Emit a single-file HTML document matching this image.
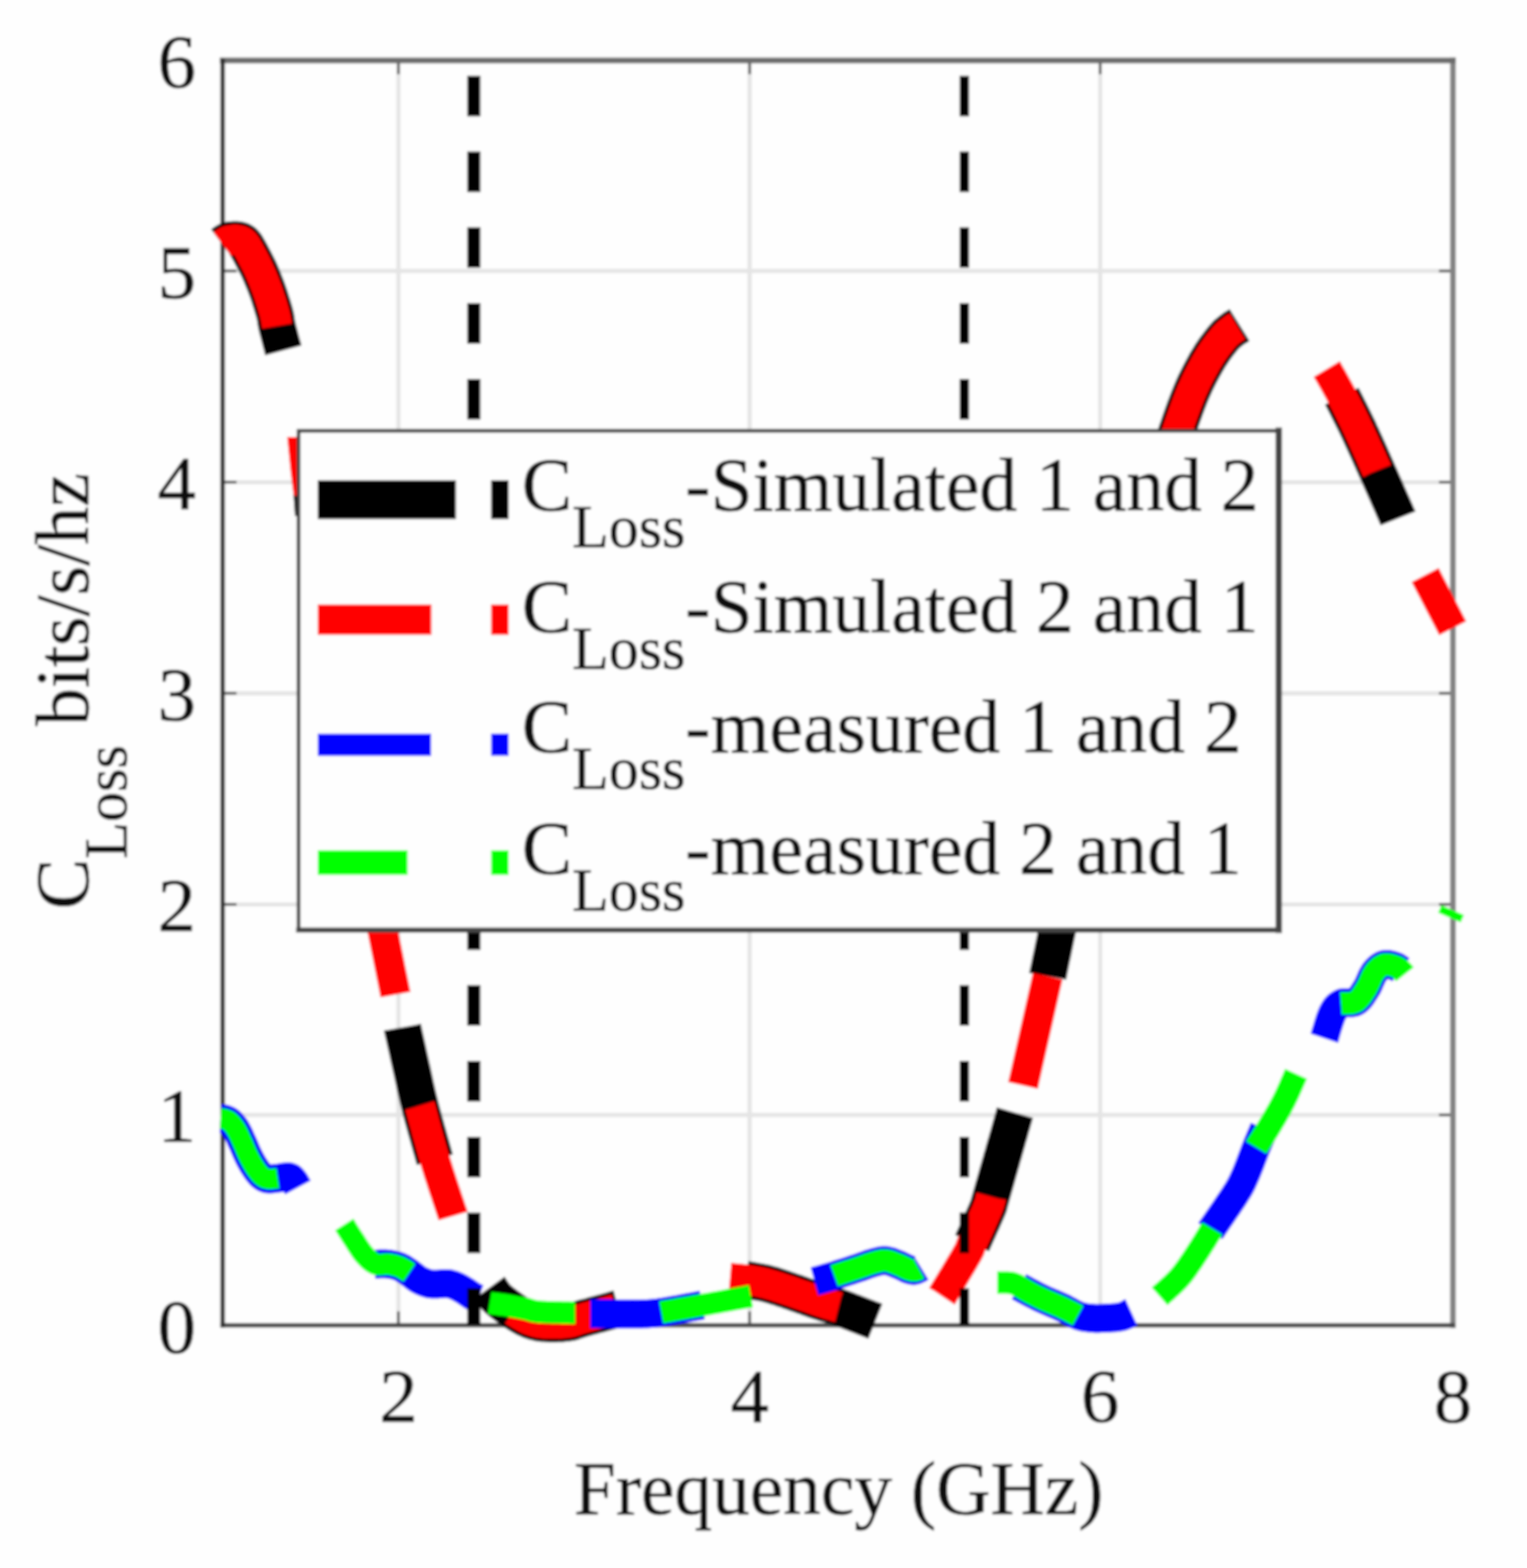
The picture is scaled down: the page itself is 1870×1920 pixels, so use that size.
<!DOCTYPE html>
<html lang="en">
<head>
<meta charset="utf-8">
<title>C Loss versus Frequency</title>
<style>
html,body{margin:0;padding:0;background:#fefefe;}
body{width:1870px;height:1920px;overflow:hidden;}
svg{display:block;}
text{font-family:"Liberation Serif","DejaVu Serif",serif;fill:#101010;stroke:#101010;stroke-width:0.7px;}
</style>
</head>
<body>
<svg width="1870" height="1920" viewBox="0 0 1870 1920">
<defs><filter id="soft" x="0" y="0" width="1870" height="1920" filterUnits="userSpaceOnUse"><feGaussianBlur stdDeviation="1.40"/></filter></defs>
<rect x="0" y="0" width="1870" height="1920" fill="#fefefe"/>
<g filter="url(#soft)">
<rect x="-20" y="-20" width="1910" height="1960" fill="#fefefe"/>
<g stroke="#e4e4e4" stroke-width="5" fill="none">
<line x1="487.9" y1="73.9" x2="487.9" y2="1622.8"/>
<line x1="918.0" y1="73.9" x2="918.0" y2="1622.8"/>
<line x1="1347.3" y1="73.9" x2="1347.3" y2="1622.8"/>
<line x1="272.6" y1="1365.2" x2="1779.3" y2="1365.2"/>
<line x1="272.6" y1="1107.4" x2="1779.3" y2="1107.4"/>
<line x1="272.6" y1="848.9" x2="1779.3" y2="848.9"/>
<line x1="272.6" y1="590.4" x2="1779.3" y2="590.4"/>
<line x1="272.6" y1="331.8" x2="1779.3" y2="331.8"/>
</g>
<g stroke="#4a4a4a" stroke-width="3" fill="none">
<line x1="487.9" y1="1622.8" x2="487.9" y2="1605.8"/>
<line x1="487.9" y1="73.9" x2="487.9" y2="90.9"/>
<line x1="918.0" y1="1622.8" x2="918.0" y2="1605.8"/>
<line x1="918.0" y1="73.9" x2="918.0" y2="90.9"/>
<line x1="1347.3" y1="1622.8" x2="1347.3" y2="1605.8"/>
<line x1="1347.3" y1="73.9" x2="1347.3" y2="90.9"/>
<line x1="272.6" y1="1365.2" x2="289.6" y2="1365.2"/>
<line x1="1779.3" y1="1365.2" x2="1762.3" y2="1365.2"/>
<line x1="272.6" y1="1107.4" x2="289.6" y2="1107.4"/>
<line x1="1779.3" y1="1107.4" x2="1762.3" y2="1107.4"/>
<line x1="272.6" y1="848.9" x2="289.6" y2="848.9"/>
<line x1="1779.3" y1="848.9" x2="1762.3" y2="848.9"/>
<line x1="272.6" y1="590.4" x2="289.6" y2="590.4"/>
<line x1="1779.3" y1="590.4" x2="1762.3" y2="590.4"/>
<line x1="272.6" y1="331.8" x2="289.6" y2="331.8"/>
<line x1="1779.3" y1="331.8" x2="1762.3" y2="331.8"/>
</g>
<g fill="none" stroke-linecap="square">
<path d="M1779.3,73.9 V1622.8" stroke="#828282" stroke-width="7"/>
<path d="M272.6,73.9 H1779.3" stroke="#6c6c6c" stroke-width="7"/>
<path d="M272.6,1622.8 H1779.3" stroke="#4a4a4a" stroke-width="5.5"/>
<path d="M272.6,73.9 V1622.8" stroke="#2e2e2e" stroke-width="5.5"/>
</g>
<g stroke-linecap="butt" stroke-linejoin="round">
<polygon points="359.2,604.0 372.0,604.0 372.0,632.0 361.2,632.0" fill="#000000"/>
<polygon points="351.7,535.0 372.0,535.0 372.0,607.0 359.6,607.0 355.8,576.7" fill="#ff0000"/>
<path d="M272.3,299.2 273.5,298.3 275.2,297.1 277.2,295.8 279.3,294.8 281.6,294.2 284.1,293.9 286.7,293.7 289.0,293.7 291.7,293.9 294.1,294.4 296.3,295.4 298.2,296.7 299.8,298.5 301.6,301.0 302.6,302.6 303.6,304.3 304.7,306.2 305.8,308.3 307.1,310.6 308.4,313.1 309.2,314.6 310.0,316.1 310.9,317.8 311.8,319.5 312.7,321.2 313.6,323.0 314.6,324.9 315.5,326.8 316.5,328.8 317.4,330.8 318.3,332.8 319.1,334.6 319.9,336.4 320.6,338.2 321.4,340.1 322.2,342.0 323.0,344.0 323.8,346.0 324.6,348.0 325.4,350.0 326.1,352.0 326.9,354.0 327.6,356.0 328.3,358.0 329.0,360.0 329.7,362.1 330.4,364.3 331.1,366.5 331.8,368.7 332.5,370.9 333.2,373.0 333.8,375.2 334.4,377.2 335.0,379.2 335.6,381.1 336.1,382.9 336.5,384.6 337.1,387.2 337.6,389.3 337.8,391.0 338.0,392.6 338.3,394.4 338.7,396.6 339.3,399.4 339.7,401.0 340.1,402.8 340.6,404.8 341.2,407.0 341.8,409.3 342.4,411.6 343.0,414.0 343.6,416.3 344.2,418.6 344.8,420.8 345.4,422.8 345.9,424.7 346.3,426.4 346.7,427.9 347.0,429.0" stroke="#000000" stroke-width="46" fill="none"/>
<path d="M492.8,1258.0 493.0,1259.1 493.3,1260.3 493.6,1261.7 494.0,1263.2 494.3,1264.9 494.7,1266.6 495.1,1268.5 495.6,1270.5 496.0,1272.5 496.5,1274.6 497.0,1276.8 497.4,1279.0 498.0,1281.3 498.5,1283.6 499.0,1285.9 499.5,1288.2 500.0,1290.6 500.5,1292.9 501.0,1295.2 501.5,1297.5 502.0,1299.7 502.5,1301.9 503.0,1304.0 503.4,1305.9 503.8,1307.8 504.3,1309.7 504.7,1311.6 505.1,1313.4 505.5,1315.3 505.9,1317.2 506.3,1319.1 506.7,1320.9 507.1,1322.8 507.5,1324.7 507.9,1326.6 508.3,1328.5 508.7,1330.5 509.2,1332.4 509.6,1334.4 510.1,1336.4 510.5,1338.5 511.0,1340.5 511.5,1342.6 512.0,1344.8 512.5,1346.9 513.1,1349.2 513.6,1351.4 514.2,1353.7 514.6,1355.4 515.1,1357.3 515.6,1359.2 516.1,1361.1 516.7,1363.2 517.2,1365.3 517.8,1367.4 518.4,1369.6 519.0,1371.8 519.6,1374.0 520.2,1376.3 520.9,1378.5 521.5,1380.8 522.1,1383.1 522.8,1385.4 523.4,1387.7 524.1,1390.0 524.7,1392.2 525.3,1394.4 525.9,1396.6 526.5,1398.7 527.1,1400.8 527.7,1402.9 528.2,1404.9 528.8,1406.8 529.3,1408.6 529.8,1410.4 530.3,1412.1 530.7,1413.6 531.1,1415.1 531.5,1416.5 531.9,1417.8 532.2,1419.0 532.5,1420.0" stroke="#000000" stroke-width="46" fill="none"/>
<path d="M599.3,1576.9 600.1,1578.0 601.0,1579.5 602.1,1581.3 603.5,1583.3 605.0,1585.4 606.7,1587.5 608.7,1589.6 610.0,1590.8 611.4,1592.1 613.0,1593.4 614.7,1594.7 616.4,1596.1 618.2,1597.4 620.0,1598.8 621.8,1600.1 623.6,1601.4 625.3,1602.6 626.9,1603.8 628.5,1604.9 630.5,1606.2 632.4,1607.5 634.3,1608.7 636.1,1609.9 637.9,1610.9 639.6,1611.9 641.4,1612.9 643.1,1613.8 644.8,1614.6 646.9,1615.6 649.0,1616.5 651.0,1617.2 653.0,1617.9 655.0,1618.5 657.1,1619.0 659.4,1619.5 661.3,1619.8 663.3,1620.1 665.3,1620.3 667.4,1620.4 669.5,1620.5 671.6,1620.6 673.8,1620.7 675.9,1620.7 678.0,1620.7 680.1,1620.7 682.3,1620.6 684.5,1620.6 686.7,1620.5 688.9,1620.3 691.0,1620.1 693.1,1619.9 695.1,1619.7 697.0,1619.4 699.2,1619.0 701.1,1618.5 702.8,1617.9 704.6,1617.3 706.4,1616.6 708.5,1615.9 711.0,1615.1 712.7,1614.6 714.4,1614.1 716.3,1613.6 718.3,1613.1 720.4,1612.5 722.5,1612.0 724.6,1611.4 726.8,1610.8 728.9,1610.2 731.0,1609.7 733.0,1609.1 735.0,1608.6 737.2,1608.0 739.4,1607.4 741.7,1606.7 744.1,1606.1 746.4,1605.5 748.6,1604.8 750.7,1604.3 752.6,1603.7 754.4,1603.2 755.8,1602.8 757.0,1602.5" stroke="#000000" stroke-width="46" fill="none"/>
<path d="M913.0,1567.0 914.2,1567.2 915.7,1567.5 917.4,1567.7 919.3,1568.0 921.3,1568.4 923.5,1568.8 925.9,1569.2 928.3,1569.6 930.7,1570.0 933.2,1570.5 935.7,1571.1 938.1,1571.6 940.4,1572.2 942.3,1572.7 944.2,1573.2 946.1,1573.8 948.1,1574.4 950.1,1575.0 952.1,1575.7 954.1,1576.3 956.2,1577.0 958.2,1577.7 960.3,1578.4 962.3,1579.1 964.4,1579.8 966.4,1580.5 968.5,1581.2 970.5,1581.9 972.5,1582.6 974.4,1583.2 976.3,1583.9 978.3,1584.6 980.3,1585.3 982.2,1586.0 984.2,1586.7 986.2,1587.4 988.2,1588.1 990.1,1588.8 992.1,1589.5 994.0,1590.2 995.9,1590.9 997.7,1591.5 999.5,1592.2 1001.3,1592.8 1003.0,1593.4 1004.6,1593.9 1006.9,1594.6 1009.0,1595.3 1010.8,1595.8 1012.5,1596.3 1014.2,1596.7 1015.9,1597.2 1017.7,1597.7 1019.6,1598.2 1021.8,1598.9 1024.2,1599.7 1027.1,1600.7 1028.6,1601.2 1030.2,1601.8 1031.9,1602.5 1033.8,1603.2 1035.8,1603.9 1037.8,1604.7 1039.9,1605.5 1042.1,1606.3 1044.3,1607.1 1046.5,1608.0 1048.7,1608.9 1051.0,1609.7 1053.2,1610.6 1055.3,1611.4 1057.5,1612.3 1059.5,1613.1 1061.5,1613.8 1063.4,1614.6 1065.2,1615.3 1066.9,1615.9 1068.4,1616.5 1069.8,1617.0 1071.0,1617.5 1072.0,1617.9" stroke="#000000" stroke-width="46" fill="none"/>
<path d="M1190.5,1522.0 1191.0,1521.0 1191.5,1519.8 1192.1,1518.4 1192.8,1516.8 1193.6,1515.2 1194.4,1513.4 1195.3,1511.4 1196.2,1509.4 1197.2,1507.3 1198.1,1505.2 1199.1,1503.0 1200.1,1500.8 1201.1,1498.6 1202.1,1496.4 1203.1,1494.3 1204.0,1492.1 1204.9,1490.1 1205.8,1488.1 1206.6,1486.2 1207.4,1484.5 1208.1,1482.8 1208.8,1481.3 1209.3,1480.0 1210.5,1477.2 1210.9,1476.3 1210.9,1476.3 1210.9,1476.2 1211.1,1475.0 1212.0,1471.6 1213.8,1465.1 1214.1,1463.9 1214.5,1462.7 1214.9,1461.3 1215.3,1459.9 1215.7,1458.4 1216.2,1456.8 1216.6,1455.1 1217.1,1453.4 1217.7,1451.6 1218.2,1449.7 1218.7,1447.8 1219.3,1445.8 1219.9,1443.7 1220.5,1441.6 1221.1,1439.5 1221.7,1437.3 1222.3,1435.1 1223.0,1432.8 1223.6,1430.6 1224.3,1428.2 1224.9,1425.9 1225.6,1423.6 1226.3,1421.2 1226.9,1418.8 1227.6,1416.4 1228.3,1414.1 1229.0,1411.7 1229.6,1409.3 1230.3,1406.9 1231.0,1404.6 1231.6,1402.2 1232.3,1399.9 1233.0,1397.6 1233.6,1395.3 1234.2,1393.1 1234.9,1390.9 1235.5,1388.7 1236.1,1386.6 1236.7,1384.5 1237.2,1382.5 1237.8,1380.5 1238.3,1378.6 1238.9,1376.8 1239.4,1375.0 1239.9,1373.3 1240.3,1371.6 1240.8,1370.0 1241.2,1368.6 1241.6,1367.2 1241.9,1365.9 1242.3,1364.6 1242.6,1363.5 1242.9,1362.5" stroke="#000000" stroke-width="46" fill="none"/>
<path d="M1283.0,1195.3 1283.2,1194.2 1283.5,1193.0 1283.8,1191.6 1284.1,1190.0 1284.4,1188.4 1284.8,1186.6 1285.2,1184.7 1285.6,1182.7 1286.0,1180.6 1286.5,1178.4 1286.9,1176.2 1287.4,1174.0 1287.9,1171.6 1288.4,1169.3 1288.9,1166.9 1289.4,1164.6 1289.8,1162.2 1290.3,1159.9 1290.8,1157.5 1291.3,1155.2 1291.7,1153.0 1292.2,1150.8 1292.6,1148.7 1293.0,1146.7 1293.4,1144.7 1293.8,1142.9 1294.2,1141.2 1294.5,1139.6 1295.1,1136.8 1295.6,1134.1 1296.1,1131.5 1296.7,1129.1 1297.1,1126.7 1297.6,1124.5 1298.0,1122.3 1298.4,1120.3 1298.8,1118.5 1299.1,1116.7 1299.5,1115.1 1299.8,1113.6 1300.0,1112.3 1300.3,1111.1 1300.5,1110.0" stroke="#000000" stroke-width="46" fill="none"/>
<path d="M1432.0,560.0 1432.3,558.9 1432.7,557.7 1433.1,556.3 1433.5,554.7 1434.0,553.0 1434.5,551.2 1435.1,549.3 1435.7,547.3 1436.3,545.2 1436.9,543.0 1437.6,540.8 1438.2,538.5 1439.0,536.2 1439.7,533.8 1440.4,531.5 1441.2,529.1 1441.9,526.8 1442.7,524.5 1443.3,522.8 1443.9,521.0 1444.5,519.1 1445.2,517.3 1445.8,515.4 1446.5,513.4 1447.2,511.4 1447.9,509.4 1448.6,507.4 1449.3,505.4 1450.1,503.4 1450.8,501.3 1451.5,499.3 1452.3,497.2 1453.1,495.2 1453.8,493.2 1454.6,491.1 1455.4,489.1 1456.1,487.2 1456.9,485.2 1457.7,483.3 1458.5,481.4 1459.2,479.6 1460.0,477.8 1460.9,475.8 1461.8,473.8 1462.7,471.8 1463.6,469.8 1464.5,467.8 1465.5,465.9 1466.4,464.0 1467.3,462.1 1468.3,460.2 1469.2,458.3 1470.2,456.5 1471.2,454.7 1472.1,452.9 1473.1,451.1 1474.0,449.4 1475.0,447.7 1475.9,446.0 1476.8,444.3 1477.8,442.7 1478.7,441.1 1479.6,439.6 1480.9,437.5 1482.2,435.4 1483.5,433.4 1484.8,431.4 1486.1,429.5 1487.4,427.6 1488.7,425.8 1490.0,424.1 1491.3,422.4 1492.5,420.8 1493.7,419.2 1494.9,417.8 1496.0,416.4 1497.1,415.0 1498.1,413.8 1500.1,411.5 1501.9,409.6 1503.5,408.1 1505.0,406.9 1506.4,405.8 1507.7,404.8 1509.0,403.8 1511.6,401.9 1513.8,400.6 1515.5,399.6 1517.2,398.5 1518.0,398.0" stroke="#000000" stroke-width="46" fill="none"/>
<path d="M1643.2,485.1 1643.7,486.1 1644.2,487.2 1644.9,488.4 1645.5,489.7 1646.3,491.1 1647.1,492.7 1647.9,494.3 1648.8,496.0 1649.7,497.8 1650.6,499.7 1651.6,501.6 1652.6,503.5 1653.6,505.6 1654.6,507.6 1655.7,509.7 1656.7,511.8 1657.8,513.9 1658.8,516.1 1659.9,518.2 1660.9,520.3 1661.9,522.4 1662.9,524.5 1663.7,526.1 1664.5,527.8 1665.2,529.5 1666.0,531.2 1666.8,532.9 1667.6,534.6 1668.4,536.4 1669.2,538.2 1670.1,540.0 1670.9,541.8 1671.7,543.6 1672.5,545.4 1673.4,547.3 1674.2,549.2 1675.1,551.0 1675.9,552.9 1676.8,554.8 1677.6,556.7 1678.5,558.6 1679.3,560.6 1680.2,562.5 1681.1,564.4 1681.9,566.4 1682.8,568.3 1683.7,570.3 1684.5,572.3 1685.4,574.2 1686.3,576.2 1687.1,578.0 1687.9,579.9 1688.8,581.8 1689.7,583.8 1690.6,585.9 1691.5,588.0 1692.5,590.1 1693.4,592.3 1694.4,594.4 1695.4,596.6 1696.3,598.8 1697.3,601.0 1698.3,603.2 1699.2,605.4 1700.2,607.6 1701.1,609.8 1702.1,611.9 1703.0,614.0 1703.9,616.0 1704.8,618.0 1705.6,619.9 1706.4,621.8 1707.2,623.6 1708.0,625.3 1708.7,627.0 1709.4,628.5 1710.0,630.0 1710.6,631.3 1711.2,632.6 1711.7,633.7 1712.1,634.7" stroke="#000000" stroke-width="46" fill="none"/>
<path d="M272.3,299.2 273.5,298.3 275.2,297.1 277.2,295.8 279.3,294.8 281.6,294.2 284.1,293.9 286.7,293.7 289.0,293.7 291.7,293.9 294.1,294.4 296.3,295.4 298.2,296.7 299.8,298.5 301.6,301.0 302.6,302.6 303.6,304.3 304.7,306.2 305.8,308.3 307.1,310.6 308.4,313.1 309.2,314.6 310.0,316.1 310.9,317.8 311.8,319.5 312.7,321.2 313.6,323.0 314.6,324.9 315.5,326.8 316.5,328.8 317.4,330.8 318.3,332.8 319.1,334.6 319.9,336.4 320.6,338.2 321.4,340.1 322.2,342.0 323.0,344.0 323.8,346.0 324.6,348.0 325.4,350.0 326.1,352.0 326.9,354.0 327.6,356.0 328.3,358.0 329.0,360.0 329.7,362.1 330.4,364.3 331.1,366.5 331.8,368.7 332.5,370.9 333.2,373.0 333.8,375.2 334.4,377.2 335.0,379.2 335.6,381.1 336.1,382.9 336.5,384.6 337.2,387.5 337.8,390.1 338.2,392.5 338.6,394.7 338.9,396.6 339.1,398.2 339.3,399.4" stroke="#ff0000" stroke-width="37.3" fill="none"/>
<path d="M462.8,1110.0 463.0,1111.0 463.2,1112.2 463.5,1113.4 463.7,1114.7 464.0,1116.1 464.3,1117.7 464.7,1119.4 465.0,1121.3 465.4,1123.3 465.9,1125.6 466.4,1128.0 466.9,1130.7 467.5,1133.7 468.1,1136.8 468.8,1140.3 469.1,1141.7 469.4,1143.3 469.7,1144.9 470.1,1146.7 470.4,1148.5 470.8,1150.4 471.2,1152.4 471.6,1154.5 472.0,1156.6 472.5,1158.7 472.9,1161.0 473.4,1163.2 473.8,1165.5 474.3,1167.9 474.8,1170.2 475.3,1172.6 475.7,1175.0 476.2,1177.4 476.7,1179.8 477.2,1182.2 477.6,1184.6 478.1,1186.9 478.6,1189.3 479.0,1191.6 479.5,1193.8 479.9,1196.0 480.4,1198.2 480.8,1200.3 481.2,1202.3 481.6,1204.3 482.0,1206.2 482.3,1208.0 482.7,1209.8 483.0,1211.4 483.3,1212.9 483.6,1214.3 483.9,1215.7 484.1,1216.8 484.3,1217.9" stroke="#ff0000" stroke-width="37.3" fill="none"/>
<path d="M514.2,1353.7 514.5,1354.7 514.8,1355.9 515.1,1357.1 515.5,1358.4 515.9,1359.9 516.3,1361.4 516.7,1363.0 517.2,1364.7 517.6,1366.4 518.1,1368.3 518.6,1370.1 519.1,1372.1 519.7,1374.1 520.2,1376.1 520.8,1378.2 521.4,1380.4 522.0,1382.5 522.5,1384.7 523.1,1387.0 523.8,1389.2 524.4,1391.5 525.0,1393.7 525.6,1396.0 526.3,1398.3 526.9,1400.5 527.5,1402.8 528.2,1405.1 528.8,1407.3 529.4,1409.5 530.0,1411.7 530.7,1413.8 531.3,1415.9 531.9,1418.0 532.5,1420.0 533.1,1421.9 533.7,1423.9 534.3,1425.9 534.9,1427.9 535.6,1430.0 536.3,1432.1 536.9,1434.3 537.6,1436.5 538.3,1438.7 539.0,1440.9 539.8,1443.1 540.5,1445.4 541.2,1447.6 541.9,1449.8 542.7,1452.1 543.4,1454.3 544.1,1456.5 544.8,1458.6 545.6,1460.8 546.3,1462.9 546.9,1465.0 547.6,1467.1 548.3,1469.1 548.9,1471.0 549.6,1472.9 550.2,1474.8 550.8,1476.5 551.3,1478.3 551.9,1479.9 552.4,1481.5 552.9,1482.9 553.4,1484.3 553.8,1485.7 554.2,1486.9 554.6,1488.0 554.9,1489.0" stroke="#ff0000" stroke-width="37.3" fill="none"/>
<path d="M628.5,1604.9 629.6,1605.6 631.1,1606.5 632.8,1607.6 634.7,1608.8 636.8,1610.1 638.9,1611.4 641.0,1612.6 643.0,1613.7 644.8,1614.6 646.9,1615.6 649.0,1616.5 651.0,1617.2 653.0,1617.9 655.0,1618.5 657.1,1619.0 659.4,1619.5 661.3,1619.8 663.3,1620.1 665.3,1620.3 667.4,1620.4 669.5,1620.5 671.6,1620.6 673.8,1620.7 675.9,1620.7 678.0,1620.7 680.1,1620.7 682.3,1620.6 684.5,1620.6 686.7,1620.5 688.9,1620.3 691.0,1620.1 693.1,1619.9 695.1,1619.7 697.0,1619.4 699.2,1619.0 701.1,1618.5 702.8,1617.9 704.6,1617.3 706.4,1616.6 708.5,1615.9 711.0,1615.1 712.7,1614.6 714.5,1614.1 716.4,1613.6 718.4,1613.1 720.5,1612.5 722.7,1611.9 724.8,1611.3 727.0,1610.8 729.1,1610.2 731.2,1609.6 733.1,1609.1 735.0,1608.6 737.4,1607.9 739.9,1607.2 742.4,1606.5 744.8,1605.9 747.1,1605.2 749.3,1604.6 751.2,1604.1 752.8,1603.6 754.0,1603.3" stroke="#ff0000" stroke-width="37.3" fill="none"/>
<path d="M893.9,1565.0 895.1,1565.1 896.6,1565.3 898.4,1565.4 900.4,1565.6 902.5,1565.8 904.8,1566.0 907.2,1566.2 909.5,1566.5 911.9,1566.8 914.2,1567.1 916.4,1567.4 918.3,1567.7 920.2,1568.0 922.1,1568.3 924.0,1568.6 925.9,1568.9 927.8,1569.3 929.7,1569.7 931.7,1570.1 933.8,1570.6 935.9,1571.0 938.1,1571.6 940.4,1572.2 942.2,1572.7 944.0,1573.2 945.9,1573.8 947.9,1574.4 949.8,1575.0 951.8,1575.7 953.9,1576.3 955.9,1577.0 958.0,1577.7 960.1,1578.4 962.2,1579.1 964.3,1579.8 966.4,1580.5 968.4,1581.2 970.5,1581.9 972.5,1582.6 974.4,1583.2 976.3,1583.9 978.3,1584.6 980.3,1585.3 982.2,1586.0 984.2,1586.7 986.2,1587.4 988.2,1588.1 990.1,1588.8 992.1,1589.5 994.0,1590.2 995.9,1590.9 997.7,1591.5 999.5,1592.2 1001.3,1592.8 1003.0,1593.4 1004.6,1593.9 1007.1,1594.7 1009.6,1595.5 1012.0,1596.3 1014.4,1597.0 1016.7,1597.7 1018.9,1598.3 1021.0,1598.9 1022.8,1599.5 1024.5,1599.9 1025.9,1600.4 1027.1,1600.7" stroke="#ff0000" stroke-width="37.3" fill="none"/>
<path d="M1153.5,1587.2 1154.1,1586.3 1154.7,1585.2 1155.5,1583.9 1156.3,1582.6 1157.2,1581.1 1158.2,1579.5 1159.2,1577.8 1160.3,1576.0 1161.4,1574.2 1162.6,1572.2 1163.8,1570.3 1165.0,1568.2 1166.2,1566.2 1167.5,1564.1 1168.8,1562.0 1170.0,1559.9 1171.3,1557.8 1172.5,1555.7 1173.8,1553.7 1175.0,1551.6 1176.1,1549.7 1177.3,1547.8 1178.4,1545.9 1179.4,1544.2 1180.4,1542.5 1181.3,1541.0 1182.2,1539.5 1182.9,1538.2 1183.6,1537.0 1185.5,1533.6 1186.7,1531.4 1187.4,1530.0 1187.8,1529.0 1188.1,1528.1 1188.5,1526.8 1189.2,1524.9 1190.5,1522.0 1191.1,1520.7 1191.8,1519.2 1192.5,1517.7 1193.2,1516.0 1194.1,1514.2 1194.9,1512.3 1195.8,1510.3 1196.7,1508.3 1197.7,1506.3 1198.6,1504.2 1199.6,1502.1 1200.5,1499.9 1201.5,1497.8 1202.4,1495.7 1203.3,1493.7 1204.2,1491.7 1205.1,1489.7 1205.9,1487.8 1206.7,1486.0 1207.5,1484.3 1208.1,1482.8 1208.8,1481.3 1209.3,1480.0 1210.7,1476.3 1211.8,1473.3 1212.5,1470.9 1212.9,1469.0 1213.3,1467.5 1213.5,1466.2 1213.8,1465.1" stroke="#ff0000" stroke-width="37.3" fill="none"/>
<path d="M1252.8,1329.2 1283.0,1195.3" stroke="#ff0000" stroke-width="37.3" fill="none"/>
<path d="M1432.0,560.0 1432.3,558.9 1432.7,557.7 1433.1,556.3 1433.5,554.7 1434.0,553.0 1434.5,551.2 1435.1,549.3 1435.7,547.3 1436.3,545.2 1436.9,543.0 1437.6,540.8 1438.2,538.5 1439.0,536.2 1439.7,533.8 1440.4,531.5 1441.2,529.1 1441.9,526.8 1442.7,524.5 1443.3,522.8 1443.9,521.0 1444.5,519.1 1445.2,517.3 1445.8,515.4 1446.5,513.4 1447.2,511.4 1447.9,509.4 1448.6,507.4 1449.3,505.4 1450.1,503.4 1450.8,501.3 1451.5,499.3 1452.3,497.2 1453.1,495.2 1453.8,493.2 1454.6,491.1 1455.4,489.1 1456.1,487.2 1456.9,485.2 1457.7,483.3 1458.5,481.4 1459.2,479.6 1460.0,477.8 1460.9,475.8 1461.8,473.8 1462.7,471.8 1463.6,469.8 1464.5,467.8 1465.5,465.9 1466.4,464.0 1467.3,462.1 1468.3,460.2 1469.2,458.3 1470.2,456.5 1471.2,454.7 1472.1,452.9 1473.1,451.1 1474.0,449.4 1475.0,447.7 1475.9,446.0 1476.8,444.3 1477.8,442.7 1478.7,441.1 1479.6,439.6 1480.9,437.5 1482.2,435.4 1483.5,433.4 1484.8,431.4 1486.1,429.5 1487.4,427.6 1488.7,425.8 1490.0,424.1 1491.3,422.4 1492.5,420.8 1493.7,419.2 1494.9,417.8 1496.0,416.4 1497.1,415.0 1498.1,413.8 1500.1,411.5 1501.9,409.6 1503.5,408.1 1505.0,406.9 1506.4,405.8 1507.7,404.8 1509.0,403.8 1511.7,401.8 1514.0,400.5 1515.5,399.6" stroke="#ff0000" stroke-width="37.3" fill="none"/>
<path d="M1624.8,451.9 1625.4,452.9 1626.0,454.0 1626.8,455.4 1627.6,456.8 1628.5,458.4 1629.5,460.1 1630.5,461.8 1631.5,463.7 1632.7,465.7 1633.8,467.7 1635.0,469.8 1636.1,471.9 1637.3,474.0 1638.5,476.2 1639.7,478.4 1640.9,480.6 1642.0,482.7 1642.8,484.3 1643.7,485.9 1644.5,487.5 1645.4,489.2 1646.3,490.9 1647.1,492.6 1648.0,494.3 1648.9,496.0 1649.8,497.8 1650.7,499.6 1651.6,501.4 1652.5,503.2 1653.4,505.1 1654.4,506.9 1655.3,508.8 1656.2,510.7 1657.2,512.6 1658.1,514.6 1659.1,516.5 1660.0,518.5 1661.0,520.5 1661.9,522.5 1662.9,524.5 1663.7,526.2 1664.5,528.0 1665.4,529.9 1666.3,531.8 1667.2,533.8 1668.2,535.9 1669.1,537.9 1670.1,540.1 1671.1,542.2 1672.0,544.4 1673.0,546.5 1674.0,548.7 1674.9,550.8 1675.9,553.0 1676.9,555.1 1677.8,557.1 1678.7,559.2 1679.6,561.1 1680.4,563.1 1681.2,564.9 1682.0,566.7 1682.8,568.4 1683.5,570.0 1684.2,571.4 1684.8,572.8 1685.3,574.1 1685.9,575.2 1686.3,576.2" stroke="#ff0000" stroke-width="37.3" fill="none"/>
<path d="M1745.3,704.1 1779.0,769.3" stroke="#ff0000" stroke-width="37.3" fill="none"/>
<path d="M270.0,1369.6 271.6,1369.7 273.8,1370.0 276.0,1370.5 277.9,1371.3 279.9,1372.3 282.0,1374.0 283.2,1375.2 284.4,1376.5 285.6,1378.0 286.9,1379.7 288.2,1381.5 289.4,1383.5 290.3,1385.1 291.3,1386.9 292.2,1388.8 293.2,1390.8 294.1,1392.8 295.0,1394.9 295.9,1396.9 296.8,1398.8 297.7,1400.7 298.5,1402.6 299.3,1404.5 300.1,1406.4 300.9,1408.3 301.7,1410.2 302.5,1412.1 303.4,1413.9 304.3,1415.7 305.2,1417.6 306.2,1419.4 307.1,1421.2 308.1,1423.0 309.1,1424.7 310.1,1426.4 311.1,1428.0 312.3,1429.8 313.5,1431.7 314.8,1433.5 316.1,1435.2 317.3,1436.7 318.6,1438.2 319.8,1439.4 321.8,1441.1 323.7,1442.3 325.7,1443.1 328.0,1443.6 329.8,1443.7 331.7,1443.7 333.7,1443.5 335.9,1443.2 338.0,1442.9 340.2,1442.6 342.5,1442.3 345.0,1441.9 347.5,1441.4 350.0,1441.1 352.2,1440.9 354.1,1441.0 356.7,1442.1 358.4,1443.9 360.0,1446.0 361.4,1448.0 362.8,1450.4 364.0,1452.6 364.8,1454.1" stroke="#0000ff" stroke-width="35.5" fill="none"/>
<path d="M459.6,1547.8 461.0,1547.8 463.0,1547.7 465.4,1547.6 467.9,1547.5 470.6,1547.5 473.2,1547.6 475.5,1547.8 477.7,1548.1 479.8,1548.5 482.0,1549.0 484.1,1549.5 486.1,1550.1 488.1,1550.8 490.0,1551.5 492.1,1552.5 494.0,1553.5 495.8,1554.7 497.6,1555.9 499.4,1557.2 501.3,1558.5 502.9,1559.7 504.5,1560.9 506.2,1562.2 507.8,1563.6 509.5,1564.8 511.2,1566.0 513.1,1567.1 515.0,1568.1 517.0,1569.0 519.0,1569.9 521.1,1570.7 523.3,1571.4 525.6,1572.0 528.1,1572.4 530.0,1572.6 532.1,1572.6 534.3,1572.5 536.5,1572.4 538.8,1572.2 541.1,1572.0 543.4,1571.8 545.5,1571.8 547.6,1571.8 549.5,1572.0 552.0,1572.5 554.2,1573.1 556.3,1573.9 558.3,1574.7 560.3,1575.7 562.3,1576.7 564.4,1577.8 566.3,1578.9 568.3,1580.1 570.4,1581.4 572.4,1582.8 574.4,1584.1 576.2,1585.4 577.9,1586.5 579.4,1587.4 582.5,1589.0 584.6,1589.8 586.0,1590.3" stroke="#0000ff" stroke-width="35.5" fill="none"/>
<path d="M722.9,1608.5 724.0,1608.5 725.3,1608.5 726.7,1608.5 728.3,1608.6 730.0,1608.6 731.9,1608.6 733.8,1608.7 735.9,1608.7 738.0,1608.7 740.2,1608.7 742.5,1608.8 744.8,1608.8 747.2,1608.8 749.6,1608.9 752.0,1608.9 754.4,1608.9 756.9,1609.0 759.3,1609.0 761.7,1609.0 764.0,1609.0 766.3,1609.0 768.5,1609.1 770.7,1609.1 772.8,1609.1 774.8,1609.1 776.6,1609.0 778.4,1609.0 780.0,1609.0 782.9,1608.9 785.5,1608.9 787.8,1608.8 789.9,1608.8 791.8,1608.7 793.6,1608.6 795.3,1608.5 797.0,1608.4 798.7,1608.3 800.5,1608.1 802.5,1607.8 804.6,1607.6 807.0,1607.3 809.7,1606.9 811.4,1606.7 813.2,1606.4 815.1,1606.1 817.1,1605.8 819.2,1605.4 821.4,1605.0 823.7,1604.7 826.0,1604.2 828.4,1603.8 830.8,1603.4 833.1,1603.0 835.5,1602.5 837.9,1602.1 840.2,1601.7 842.5,1601.2 844.7,1600.8 846.9,1600.4 849.0,1600.0 851.0,1599.7 852.8,1599.3 854.6,1599.0 856.2,1598.7 857.6,1598.4 858.9,1598.2 860.0,1598.0" stroke="#0000ff" stroke-width="35.5" fill="none"/>
<path d="M997.4,1569.0 998.5,1568.7 999.9,1568.3 1001.6,1567.8 1003.4,1567.3 1005.4,1566.7 1007.5,1566.1 1009.8,1565.5 1012.1,1564.8 1014.5,1564.1 1016.8,1563.4 1019.2,1562.7 1021.5,1562.0 1023.3,1561.5 1025.1,1560.9 1027.0,1560.3 1029.0,1559.6 1031.1,1559.0 1033.1,1558.3 1035.2,1557.7 1037.3,1557.0 1039.4,1556.3 1041.4,1555.7 1043.4,1555.0 1045.3,1554.4 1047.2,1553.8 1048.9,1553.2 1050.6,1552.7 1052.1,1552.2 1054.8,1551.3 1057.1,1550.4 1059.2,1549.7 1061.0,1549.0 1062.7,1548.3 1064.4,1547.7 1066.2,1547.2 1068.1,1546.6 1070.1,1546.0 1072.1,1545.5 1074.1,1544.9 1076.1,1544.4 1078.2,1544.0 1080.2,1543.6 1082.2,1543.5 1084.2,1543.5 1086.2,1543.7 1088.3,1544.2 1090.3,1544.7 1092.4,1545.4 1094.4,1546.2 1096.4,1547.0 1098.3,1547.8 1100.2,1548.5 1102.3,1549.3 1104.3,1550.3 1106.2,1551.3 1108.1,1552.2 1109.9,1553.1 1111.6,1553.9 1113.1,1554.5 1116.0,1555.4 1118.2,1555.7 1120.5,1555.5 1122.5,1554.8 1124.6,1553.8 1126.5,1552.7 1127.8,1551.9" stroke="#0000ff" stroke-width="35.5" fill="none"/>
<path d="M1248.0,1575.5 1249.2,1576.2 1250.9,1577.1 1252.9,1578.2 1255.3,1579.6 1258.0,1581.0 1259.5,1581.8 1261.1,1582.6 1262.8,1583.5 1264.6,1584.5 1266.5,1585.4 1268.4,1586.4 1270.4,1587.5 1272.5,1588.5 1274.6,1589.5 1276.7,1590.5 1278.4,1591.3 1280.2,1592.1 1282.0,1592.9 1283.9,1593.7 1285.8,1594.5 1287.7,1595.3 1289.7,1596.1 1291.6,1597.0 1293.6,1597.8 1295.4,1598.6 1297.3,1599.4 1299.1,1600.2 1300.8,1601.0 1303.0,1602.0 1305.1,1603.1 1307.1,1604.2 1309.2,1605.3 1311.1,1606.4 1313.1,1607.5 1314.9,1608.5 1316.8,1609.4 1318.5,1610.2 1320.2,1610.9 1322.5,1611.7 1324.5,1612.3 1326.5,1612.8 1328.4,1613.1 1330.2,1613.4 1332.1,1613.6 1334.0,1613.8 1335.9,1614.0 1337.7,1614.2 1339.5,1614.3 1341.4,1614.4 1343.4,1614.4 1345.6,1614.4 1348.2,1614.3 1349.9,1614.2 1351.8,1614.2 1353.8,1614.1 1355.9,1614.0 1358.1,1613.9 1360.3,1613.8 1362.5,1613.6 1364.7,1613.5 1366.8,1613.3 1368.8,1613.0 1370.6,1612.8 1372.3,1612.5 1374.9,1611.9 1377.3,1611.0 1379.4,1610.1 1381.3,1609.1 1383.0,1608.2 1384.4,1607.4 1385.5,1606.9" stroke="#0000ff" stroke-width="35.5" fill="none"/>
<path d="M1482.2,1507.4 1482.8,1506.5 1483.5,1505.4 1484.4,1504.3 1485.3,1503.0 1486.2,1501.5 1487.3,1500.0 1488.4,1498.4 1489.6,1496.7 1490.8,1494.9 1492.1,1493.1 1493.4,1491.2 1494.7,1489.3 1496.0,1487.3 1497.4,1485.4 1498.7,1483.4 1500.1,1481.4 1501.4,1479.4 1502.8,1477.5 1504.1,1475.5 1505.3,1473.7 1506.6,1471.8 1507.8,1470.1 1508.9,1468.4 1510.0,1466.8 1511.0,1465.2 1511.9,1463.8 1512.7,1462.5 1514.3,1459.9 1515.8,1457.6 1517.0,1455.6 1518.0,1453.8 1518.9,1452.2 1519.8,1450.6 1520.5,1449.1 1521.3,1447.6 1522.0,1446.0 1522.8,1444.2 1523.7,1442.2 1524.7,1440.0 1525.4,1438.4 1526.2,1436.6 1526.9,1434.8 1527.7,1432.9 1528.5,1430.9 1529.3,1428.8 1530.1,1426.8 1530.9,1424.7 1531.7,1422.6 1532.5,1420.5 1533.3,1418.4 1534.1,1416.3 1534.8,1414.3 1535.6,1412.3 1536.3,1410.4 1537.0,1408.5 1537.7,1406.8 1538.4,1405.1 1539.4,1402.7 1540.3,1400.3 1541.3,1398.0 1542.3,1395.7 1543.2,1393.5 1544.1,1391.4 1544.9,1389.4 1545.7,1387.6 1546.4,1385.9 1547.0,1384.4 1547.5,1383.1 1548.0,1382.0" stroke="#0000ff" stroke-width="35.5" fill="none"/>
<path d="M1621.8,1271.4 1622.2,1270.2 1622.6,1268.8 1623.1,1267.1 1623.6,1265.1 1624.2,1263.0 1624.9,1260.8 1625.6,1258.4 1626.3,1256.1 1627.0,1253.7 1627.8,1251.3 1628.5,1249.0 1629.3,1246.9 1630.0,1244.9 1630.7,1243.1 1631.4,1241.5 1632.6,1239.0 1633.8,1236.8 1635.0,1235.0 1636.2,1233.4 1637.5,1232.0 1638.9,1230.8 1640.4,1229.7 1642.1,1228.7 1643.8,1228.1 1645.7,1227.8 1647.8,1227.7 1650.0,1227.8 1652.2,1227.8 1654.3,1227.9 1656.5,1227.7 1658.5,1227.3 1660.3,1226.5 1661.8,1225.5 1663.3,1224.2 1664.7,1222.8 1666.0,1221.3 1667.3,1219.6 1668.5,1217.8 1669.7,1216.0 1670.9,1214.1 1672.1,1212.3 1673.2,1210.5 1674.3,1208.7 1675.3,1206.7 1676.3,1204.7 1677.2,1202.6 1678.1,1200.5 1679.0,1198.4 1679.9,1196.4 1680.8,1194.5 1681.8,1192.8 1682.8,1191.2 1684.3,1189.2 1685.9,1187.3 1687.6,1185.7 1689.2,1184.2 1691.0,1183.0 1692.7,1182.0 1694.5,1181.3 1696.7,1180.9 1699.1,1180.9 1701.5,1181.2 1703.9,1181.8 1706.1,1182.4 1708.0,1183.0 1710.5,1184.0 1712.6,1185.4 1714.3,1186.6 1715.5,1187.5" stroke="#0000ff" stroke-width="35.5" fill="none"/>
<path d="M270.0,1369.6 271.6,1369.7 273.8,1370.0 276.0,1370.5 277.9,1371.3 279.9,1372.3 282.0,1374.0 283.2,1375.2 284.4,1376.5 285.6,1378.0 286.9,1379.7 288.2,1381.5 289.4,1383.5 290.3,1385.1 291.3,1386.9 292.2,1388.8 293.2,1390.8 294.1,1392.8 295.0,1394.9 295.9,1396.9 296.8,1398.8 297.7,1400.7 298.5,1402.6 299.3,1404.5 300.1,1406.4 300.9,1408.3 301.7,1410.2 302.5,1412.1 303.4,1413.9 304.3,1415.7 305.2,1417.6 306.2,1419.4 307.1,1421.2 308.1,1423.0 309.1,1424.7 310.1,1426.4 311.1,1428.0 312.3,1429.8 313.5,1431.7 314.8,1433.5 316.1,1435.2 317.3,1436.7 318.6,1438.2 319.8,1439.4 321.8,1441.1 323.7,1442.3 325.7,1443.1 328.0,1443.6 329.9,1443.7 332.2,1443.6 334.6,1443.4 336.9,1443.1 338.8,1442.8 340.2,1442.6" stroke="#00ff00" stroke-width="25" fill="none"/>
<path d="M421.6,1499.3 422.3,1500.4 423.1,1501.7 424.1,1503.3 425.2,1505.1 426.4,1507.0 427.7,1509.1 429.0,1511.1 430.3,1513.2 431.6,1515.2 432.9,1517.1 434.0,1518.9 435.2,1520.7 436.3,1522.6 437.5,1524.4 438.6,1526.2 439.8,1527.9 440.9,1529.7 442.1,1531.3 443.2,1533.0 444.4,1534.5 445.7,1536.0 447.1,1537.6 448.6,1539.2 450.1,1540.8 451.6,1542.3 453.2,1543.7 454.7,1544.9 456.3,1546.1 458.0,1547.0 459.6,1547.8 461.8,1548.4 464.0,1548.6 466.3,1548.4 468.7,1548.2 471.0,1547.9 473.3,1547.7 475.5,1547.8 477.7,1548.1 479.8,1548.5 482.0,1549.0 484.1,1549.5 486.1,1550.1 488.1,1550.8 490.0,1551.5 492.2,1552.6 494.4,1553.8 496.6,1555.2 498.5,1556.6 500.1,1557.7 501.3,1558.5" stroke="#00ff00" stroke-width="26.5" fill="none"/>
<path d="M599.5,1595.6 600.7,1595.8 602.3,1595.9 604.1,1596.2 606.1,1596.4 608.3,1596.7 610.7,1597.0 613.1,1597.3 615.5,1597.6 617.9,1597.9 620.2,1598.3 622.1,1598.6 624.1,1598.9 626.2,1599.3 628.3,1599.7 630.4,1600.1 632.5,1600.5 634.7,1600.8 636.7,1601.2 638.8,1601.6 640.7,1602.0 642.6,1602.4 644.3,1602.7 646.5,1603.2 648.2,1603.7 649.7,1604.2 651.1,1604.6 652.6,1605.1 654.5,1605.5 657.0,1605.9 660.3,1606.2 661.8,1606.3 663.4,1606.4 665.2,1606.5 667.2,1606.6 669.3,1606.7 671.5,1606.7 673.8,1606.8 676.1,1606.9 678.5,1607.0 680.9,1607.0 683.3,1607.1 685.8,1607.1 688.1,1607.2 690.4,1607.2 692.7,1607.3 694.8,1607.3 696.8,1607.3 698.7,1607.4 700.4,1607.4 701.9,1607.4 703.3,1607.5 704.4,1607.5" stroke="#00ff00" stroke-width="27.5" fill="none"/>
<path d="M809.7,1606.9 810.8,1606.7 812.0,1606.5 813.3,1606.3 814.8,1606.0 816.4,1605.7 818.1,1605.4 819.9,1605.1 821.8,1604.8 823.7,1604.4 825.8,1604.1 827.9,1603.7 830.0,1603.3 832.2,1602.9 834.5,1602.5 836.8,1602.1 839.1,1601.7 841.5,1601.3 843.8,1600.9 846.2,1600.5 848.5,1600.0 850.9,1599.6 853.2,1599.2 855.5,1598.8 857.8,1598.4 860.0,1598.0 861.9,1597.7 863.8,1597.3 865.9,1596.9 867.9,1596.6 870.1,1596.2 872.3,1595.8 874.5,1595.4 876.8,1595.0 879.1,1594.6 881.4,1594.1 883.7,1593.7 886.0,1593.3 888.4,1592.9 890.7,1592.5 892.9,1592.0 895.2,1591.6 897.4,1591.2 899.6,1590.8 901.7,1590.4 903.8,1590.1 905.8,1589.7 907.7,1589.4 909.6,1589.0 911.3,1588.7 913.0,1588.4 914.6,1588.1 916.0,1587.9 917.3,1587.6 918.5,1587.4 919.6,1587.2" stroke="#00ff00" stroke-width="27.5" fill="none"/>
<path d="M1021.5,1562.0 1022.6,1561.6 1024.0,1561.2 1025.6,1560.7 1027.3,1560.1 1029.3,1559.5 1031.4,1558.9 1033.6,1558.2 1035.8,1557.5 1038.1,1556.7 1040.3,1556.0 1042.6,1555.3 1044.8,1554.6 1046.8,1553.9 1048.8,1553.3 1050.5,1552.7 1052.1,1552.2 1054.8,1551.3 1057.1,1550.4 1059.2,1549.7 1061.0,1549.0 1062.7,1548.3 1064.4,1547.7 1066.2,1547.2 1068.1,1546.6 1070.1,1546.0 1072.1,1545.5 1074.1,1544.9 1076.1,1544.4 1078.2,1544.0 1080.2,1543.6 1082.2,1543.5 1084.2,1543.5 1086.2,1543.7 1088.3,1544.2 1090.3,1544.7 1092.4,1545.4 1094.4,1546.2 1096.4,1547.0 1098.3,1547.8 1100.2,1548.5 1102.3,1549.3 1104.3,1550.3 1106.2,1551.3 1108.1,1552.2 1109.9,1553.1 1111.6,1553.9 1113.1,1554.5 1116.1,1555.3 1118.4,1555.6 1120.5,1555.5 1123.5,1554.6 1125.5,1553.5" stroke="#00ff00" stroke-width="27.5" fill="none"/>
<path d="M1221.3,1570.6 1222.6,1570.6 1224.3,1570.6 1226.4,1570.5 1228.7,1570.5 1231.1,1570.5 1233.6,1570.5 1236.1,1570.7 1238.4,1571.0 1240.6,1571.5 1242.6,1572.2 1244.6,1573.0 1246.5,1574.0 1248.4,1575.1 1250.3,1576.3 1252.2,1577.5 1254.1,1578.7 1256.0,1579.9 1258.0,1581.0 1259.8,1581.9 1261.6,1582.9 1263.3,1583.8 1265.1,1584.8 1266.9,1585.7 1268.8,1586.6 1270.7,1587.6 1272.6,1588.5 1274.6,1589.5 1276.7,1590.5 1278.4,1591.3 1280.2,1592.1 1282.0,1592.9 1283.9,1593.7 1285.8,1594.5 1287.7,1595.3 1289.7,1596.1 1291.6,1597.0 1293.6,1597.8 1295.4,1598.6 1297.3,1599.4 1299.1,1600.2 1300.8,1601.0 1303.0,1602.1 1305.3,1603.2 1307.6,1604.3 1309.8,1605.5 1312.0,1606.6 1314.1,1607.7 1316.0,1608.7 1317.6,1609.6 1319.1,1610.3 1320.2,1610.9" stroke="#00ff00" stroke-width="27.5" fill="none"/>
<path d="M1420.1,1587.3 1421.0,1586.5 1422.0,1585.6 1423.2,1584.5 1424.6,1583.3 1426.1,1582.0 1427.7,1580.6 1429.3,1579.1 1431.0,1577.5 1432.8,1575.9 1434.6,1574.3 1436.4,1572.6 1438.1,1570.9 1439.8,1569.3 1441.5,1567.6 1443.0,1565.9 1444.5,1564.3 1445.8,1562.8 1447.1,1561.3 1448.3,1559.7 1449.5,1558.1 1450.7,1556.6 1451.9,1555.0 1453.1,1553.3 1454.2,1551.7 1455.4,1550.0 1456.5,1548.4 1457.7,1546.7 1458.8,1545.0 1460.0,1543.3 1461.1,1541.6 1462.3,1539.8 1463.4,1538.1 1464.6,1536.3 1465.7,1534.6 1466.9,1532.7 1468.2,1530.8 1469.4,1528.8 1470.7,1526.8 1472.0,1524.7 1473.3,1522.6 1474.6,1520.6 1475.9,1518.5 1477.1,1516.5 1478.3,1514.5 1479.4,1512.7 1480.5,1510.9 1481.5,1509.3 1482.4,1507.7 1483.3,1506.4 1484.0,1505.2 1484.6,1504.2" stroke="#00ff00" stroke-width="29" fill="none"/>
<path d="M1538.4,1405.1 1539.0,1404.1 1539.8,1402.9 1540.6,1401.6 1541.6,1400.1 1542.6,1398.4 1543.8,1396.7 1544.9,1394.8 1546.2,1392.9 1547.4,1390.9 1548.7,1388.9 1550.0,1386.8 1551.3,1384.8 1552.5,1382.8 1553.7,1380.8 1554.9,1378.8 1556.0,1377.0 1557.1,1375.2 1558.1,1373.4 1559.2,1371.6 1560.3,1369.8 1561.3,1368.0 1562.4,1366.1 1563.4,1364.3 1564.5,1362.5 1565.5,1360.6 1566.6,1358.8 1567.6,1356.9 1568.6,1355.0 1569.6,1353.2 1570.6,1351.2 1571.6,1349.3 1572.6,1347.4 1573.5,1345.5 1574.5,1343.5 1575.5,1341.4 1576.5,1339.3 1577.5,1337.1 1578.5,1334.8 1579.5,1332.6 1580.5,1330.4 1581.4,1328.2 1582.3,1326.1 1583.2,1324.1 1584.0,1322.2 1584.8,1320.4 1585.5,1318.7 1586.2,1317.3 1586.7,1316.0 1587.2,1314.9" stroke="#00ff00" stroke-width="29.5" fill="none"/>
<path d="M1642.1,1228.7 1643.4,1228.6 1645.0,1228.6 1647.0,1228.6 1649.2,1228.6 1651.6,1228.5 1654.0,1228.3 1656.3,1228.0 1658.4,1227.4 1660.3,1226.5 1661.8,1225.5 1663.3,1224.2 1664.7,1222.8 1666.0,1221.3 1667.3,1219.6 1668.5,1217.8 1669.7,1216.0 1670.9,1214.1 1672.1,1212.3 1673.2,1210.5 1674.3,1208.7 1675.3,1206.7 1676.3,1204.7 1677.2,1202.6 1678.1,1200.5 1679.0,1198.4 1679.9,1196.4 1680.8,1194.5 1681.8,1192.8 1682.8,1191.2 1684.3,1189.2 1685.9,1187.3 1687.6,1185.7 1689.2,1184.2 1691.0,1183.0 1692.7,1182.0 1694.5,1181.3 1696.7,1180.9 1699.1,1180.9 1701.5,1181.2 1703.9,1181.8 1706.1,1182.4 1708.0,1183.0 1710.4,1183.9 1712.3,1185.0 1713.9,1186.2 1715.5,1187.5 1717.5,1189.5 1719.3,1191.5 1720.5,1193.0" stroke="#00ff00" stroke-width="27.5" fill="none"/>
<path d="M1775.0,1123.6 1779.0,1114.4" stroke="#00ff00" stroke-width="30" fill="none"/>
</g>
<g fill="#000000">
<rect x="572.3" y="92.8" width="16.0" height="49.6"/>
<rect x="572.3" y="185.6" width="16.0" height="49.6"/>
<rect x="572.3" y="278.4" width="16.0" height="49.6"/>
<rect x="572.3" y="371.2" width="16.0" height="49.6"/>
<rect x="572.3" y="464.0" width="16.0" height="49.6"/>
<rect x="572.3" y="556.8" width="16.0" height="49.6"/>
<rect x="572.3" y="649.6" width="16.0" height="49.6"/>
<rect x="572.3" y="742.4" width="16.0" height="49.6"/>
<rect x="572.3" y="835.2" width="16.0" height="49.6"/>
<rect x="572.3" y="928.0" width="16.0" height="49.6"/>
<rect x="572.3" y="1020.8" width="16.0" height="49.6"/>
<rect x="572.3" y="1113.6" width="16.0" height="49.6"/>
<rect x="572.3" y="1206.4" width="16.0" height="49.6"/>
<rect x="572.3" y="1299.2" width="16.0" height="49.6"/>
<rect x="572.3" y="1392.0" width="16.0" height="49.6"/>
<rect x="572.3" y="1484.8" width="16.0" height="49.6"/>
<rect x="572.3" y="1577.6" width="16.0" height="45.2"/>
<rect x="1175.2" y="92.8" width="11.5" height="49.6"/>
<rect x="1175.2" y="185.6" width="11.5" height="49.6"/>
<rect x="1175.2" y="278.4" width="11.5" height="49.6"/>
<rect x="1175.2" y="371.2" width="11.5" height="49.6"/>
<rect x="1175.2" y="464.0" width="11.5" height="49.6"/>
<rect x="1175.2" y="556.8" width="11.5" height="49.6"/>
<rect x="1175.2" y="649.6" width="11.5" height="49.6"/>
<rect x="1175.2" y="742.4" width="11.5" height="49.6"/>
<rect x="1175.2" y="835.2" width="11.5" height="49.6"/>
<rect x="1175.2" y="928.0" width="11.5" height="49.6"/>
<rect x="1175.2" y="1020.8" width="11.5" height="49.6"/>
<rect x="1175.2" y="1113.6" width="11.5" height="49.6"/>
<rect x="1175.2" y="1206.4" width="11.5" height="49.6"/>
<rect x="1175.2" y="1299.2" width="11.5" height="49.6"/>
<rect x="1175.2" y="1392.0" width="11.5" height="49.6"/>
<rect x="1175.2" y="1484.8" width="11.5" height="49.6"/>
<rect x="1175.2" y="1577.6" width="11.5" height="45.2"/>
</g>
<g font-size="94">
<text x="240" y="1655.8" text-anchor="end">0</text>
<text x="240" y="1398.2" text-anchor="end">1</text>
<text x="240" y="1140.4" text-anchor="end">2</text>
<text x="240" y="881.9" text-anchor="end">3</text>
<text x="240" y="623.4" text-anchor="end">4</text>
<text x="240" y="364.8" text-anchor="end">5</text>
<text x="240" y="106.9" text-anchor="end">6</text>
<text x="487.9" y="1741" text-anchor="middle">2</text>
<text x="918.0" y="1741" text-anchor="middle">4</text>
<text x="1347.3" y="1741" text-anchor="middle">6</text>
<text x="1779.3" y="1741" text-anchor="middle">8</text>
<text transform="translate(1027,1854) scale(0.982,1)" x="0" y="0" text-anchor="middle">Frequency (GHz)</text>
<text transform="translate(107.6,1113.5) rotate(-90) scale(0.989,1)" x="0" y="0">C<tspan font-size="74.5" dy="47">Loss</tspan><tspan dy="-47"> bits/s/hz</tspan></text>
</g>
<rect x="365.7" y="527.5" width="1200.9" height="611.0" fill="#fefefe"/>
<g fill="none" stroke="#454545" stroke-linecap="square">
<path d="M365.7,1138.5 V527.5 H1566.6" stroke-width="4.6"/>
<path d="M365.7,1138.8 H1566.6" stroke-width="6.2"/>
<path d="M1566.0,527.5 V1138.5" stroke-width="8"/>
</g>
<g stroke="#000000" stroke-width="47.5"><line x1="389.2" y1="611.7" x2="558.3" y2="611.7"/><line x1="601.5" y1="611.7" x2="623" y2="611.7"/></g>
<text transform="translate(639,624.5) scale(0.985,1)" x="0" y="0" font-size="94" fill="#000">C<tspan font-size="74.5" dy="45">Loss</tspan><tspan dy="-45">-Simulated 1 and 2</tspan></text>
<g stroke="#ff0000" stroke-width="37.0"><line x1="389.2" y1="758.8" x2="528.3" y2="758.8"/><line x1="601.5" y1="758.8" x2="623" y2="758.8"/></g>
<text transform="translate(639,774.0) scale(0.985,1)" x="0" y="0" font-size="94" fill="#000">C<tspan font-size="74.5" dy="45">Loss</tspan><tspan dy="-45">-Simulated 2 and 1</tspan></text>
<g stroke="#0000ff" stroke-width="27.0"><line x1="389.2" y1="911.9" x2="528.0" y2="911.9"/><line x1="601.5" y1="911.9" x2="623" y2="911.9"/></g>
<text transform="translate(639,920.5) scale(0.985,1)" x="0" y="0" font-size="94" fill="#000">C<tspan font-size="74.5" dy="45">Loss</tspan><tspan dy="-45">-measured 1 and 2</tspan></text>
<g stroke="#00ff00" stroke-width="30.0"><line x1="389.2" y1="1056.3" x2="499.2" y2="1056.3"/><line x1="601.5" y1="1056.3" x2="623" y2="1056.3"/></g>
<text transform="translate(639,1069.5) scale(0.985,1)" x="0" y="0" font-size="94" fill="#000">C<tspan font-size="74.5" dy="45">Loss</tspan><tspan dy="-45">-measured 2 and 1</tspan></text>
</g>
</svg>
</body>
</html>
